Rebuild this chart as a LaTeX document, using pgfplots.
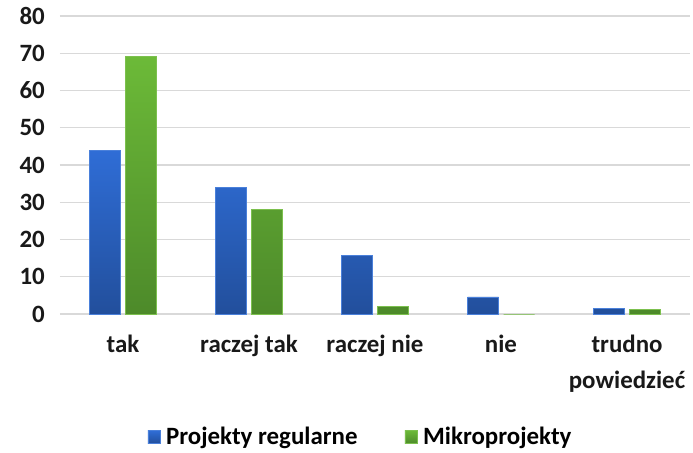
\documentclass[border=0pt]{standalone}
\usepackage{pgfplots}
\pgfplotsset{compat=1.18}
\usepackage{fontspec}
\setmainfont{Carlito}

\definecolor{bluetop}{HTML}{2F6DD6}
\definecolor{bluebot}{HTML}{224F9C}
\definecolor{blueedge}{HTML}{4A80DA}
\definecolor{greentop}{HTML}{6CBA38}
\definecolor{greenbot}{HTML}{4D8A2A}
\definecolor{greenedge}{HTML}{7CC04E}
\definecolor{gridgray}{HTML}{D9D9D9}

\begin{document}
\begin{tikzpicture}
\begin{axis}[
    scale only axis,
    width=630bp, height=298bp,
    ybar=5bp, bar width=31bp,
    xmin=-0.5, xmax=4.5,
    ymin=0, ymax=80,
    ytick={0,10,...,80},
    xtick={0,1,2,3,4},
    xticklabels={tak, raczej tak, raczej nie, nie, {trudno\\powiedzieć}},
    ymajorgrids,
    grid style={gridgray, line width=1.2pt},
    axis line style={draw=none},
    major tick length=0pt,
    /pgf/number format/assume math mode=true,
    ticklabel style={font=\fontsize{25}{36}\selectfont\bfseries, text=black!90},
    yticklabel style={anchor=east, inner sep=0pt, xshift=-15bp},
    xticklabel style={align=center, anchor=north, inner sep=0pt, yshift=-21bp},
    legend style={at={(0.477,0)}, anchor=center, yshift=-123bp, draw=none,
        fill=none, legend columns=2,
        font=\fontsize{25}{28}\selectfont\bfseries,
        /tikz/every even column/.append style={column sep=45bp}},
    legend image code/.code={\draw[#1] (0bp,-6.5bp) rectangle (12bp,6.5bp);
        \path (16bp,0bp);},
]
\addplot[draw=blueedge, line width=0.6pt, top color=bluetop, bottom color=bluebot]
    coordinates {(0,44) (1,34) (2,15.7) (3,4.6) (4,1.6)};
\addplot[draw=greenedge, line width=0.6pt, top color=greentop, bottom color=greenbot]
    coordinates {(0,69.2) (1,28.1) (2,2.0) (3,0) (4,1.3)};
\legend{Projekty regularne, Mikroprojekty}
\end{axis}
\pgfresetboundingbox
\path (-60bp,-139bp) rectangle (633bp,314bp);
\end{tikzpicture}
\end{document}
